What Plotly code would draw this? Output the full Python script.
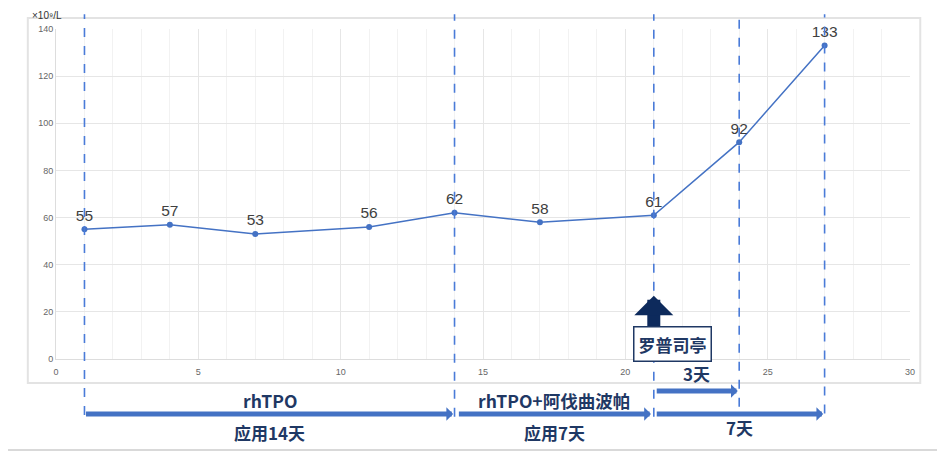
import plotly.graph_objects as go

days = [1, 4, 7, 11, 14, 17, 21, 24, 27]
plt_counts = [55, 57, 53, 56, 62, 58, 61, 92, 133]
marker_days = [1, 14, 21, 24, 27]
unit_label = "×10⁹/L"

LINE_BLUE = "#4472C4"
DASH_BLUE = "#4A7BD8"
NAVY = "#1F3864"
FONT = "Noto Sans CJK SC"

fig = go.Figure()
fig.add_trace(go.Scatter(
    x=days, y=plt_counts, mode="lines+markers+text",
    text=[str(v) for v in plt_counts], textposition="top center",
    textfont=dict(size=15.5, color="#404040", family="Liberation Sans"),
    line=dict(color=LINE_BLUE, width=1.5),
    marker=dict(color=LINE_BLUE, size=6),
    cliponaxis=False, showlegend=False,
))

shapes = []
# outer box
shapes.append(dict(type="rect", xref="paper", yref="paper", x0=-0.033, x1=1.012, y0=-0.073, y1=1.033,
                   line=dict(color="#e3e3e3", width=2), layer="below"))
# bottom separator
shapes.append(dict(type="line", xref="paper", yref="paper", x0=-0.07, x1=1.05, y0=-0.276, y1=-0.276,
                   line=dict(color="#cccccc", width=1.5)))
# dashed verticals
bottoms = {1: -0.17, 14: -0.175, 21: -0.175, 24: -0.145, 27: -0.165}
for d in marker_days:
    shapes.append(dict(type="line", xref="x", yref="paper", x0=d, x1=d, y0=bottoms[d], y1=1.045,
                       line=dict(color=DASH_BLUE, width=1.6, dash="dash")))

annotations = []
annotations.append(dict(text=unit_label, xref="paper", yref="paper", x=-0.031, y=1.0636,
                        xanchor="left", yanchor="top", showarrow=False,
                        font=dict(size=10, color="#333333", family="Liberation Sans")))

def harrow(x0, x1, y):
    annotations.append(dict(text="", xref="x", yref="paper", x=x1, y=y, axref="x", ax=x0,
                            ayref="pixel", ay=0, showarrow=True, arrowhead=1, arrowsize=0.45,
                            arrowwidth=5, arrowcolor=LINE_BLUE, standoff=0, startstandoff=0))

def label(text, x, y, size=17):
    annotations.append(dict(text="<b>%s</b>" % text, xref="x", yref="paper", x=x, y=y,
                            showarrow=False, xanchor="center", yanchor="middle",
                            font=dict(size=size, color=NAVY, family=FONT)))

ya = (359 - 414) / 330.0
harrow(marker_days[0], marker_days[1] - 0.05, ya)
harrow(marker_days[1] + 0.1, marker_days[2] - 0.1, ya)
harrow(marker_days[2] + 0.05, marker_days[4] - 0.05, ya)
harrow(marker_days[2] + 0.05, marker_days[3] - 0.05, (359 - 391) / 330.0)

label("rhTPO", (marker_days[0] + marker_days[1]) / 2, (359 - 400) / 330.0, 17.5)
label("应用14天", (marker_days[0] + marker_days[1]) / 2, (359 - 433) / 330.0)
label("rhTPO+阿伐曲波帕", (marker_days[1] + marker_days[2]) / 2, (359 - 400) / 330.0, 17.5)
label("应用7天", (marker_days[1] + marker_days[2]) / 2, (359 - 433) / 330.0)
label("3天", (marker_days[2] + marker_days[3]) / 2, (359 - 373) / 330.0)
label("7天", (marker_days[2] + marker_days[4]) / 2, (359 - 427) / 330.0)

# up arrow for 罗普司亭
annotations.append(dict(text="", xref="x", yref="y", x=marker_days[2], y=26.8, ax=0, ay=33,
                        showarrow=True, arrowhead=1, arrowsize=0.5, arrowwidth=13,
                        arrowcolor="#0D2A5C", standoff=0))
annotations.append(dict(text="<b>罗普司亭</b>", xref="x", yref="y", x=21.65, y=6.4,
                        showarrow=False, bgcolor="white", bordercolor=NAVY, borderwidth=1.5,
                        borderpad=4, font=dict(size=17, color=NAVY, family=FONT)))

fig.update_layout(
    width=945, height=459,
    margin=dict(l=48, r=43, t=21, b=108),
    paper_bgcolor="white", plot_bgcolor="white",
    shapes=shapes, annotations=annotations,
    font=dict(family="Liberation Sans"),
    xaxis=dict(range=[0, 30], dtick=5, showgrid=True, gridcolor="#e6e6e6", gridwidth=1,
               minor=dict(dtick=1, showgrid=True, gridcolor="#f2f2f2"),
               zeroline=False, showline=True, linecolor="#dddddd",
               tickfont=dict(size=9, color="#666666"), ticks="", ticklabelstandoff=4),
    yaxis=dict(range=[0, 140], dtick=20, showgrid=True, gridcolor="#e6e6e6",
               zeroline=False, showline=True, linecolor="#dddddd",
               tickfont=dict(size=9, color="#666666"), ticks=""),
)

fig.write_html("out.html")
